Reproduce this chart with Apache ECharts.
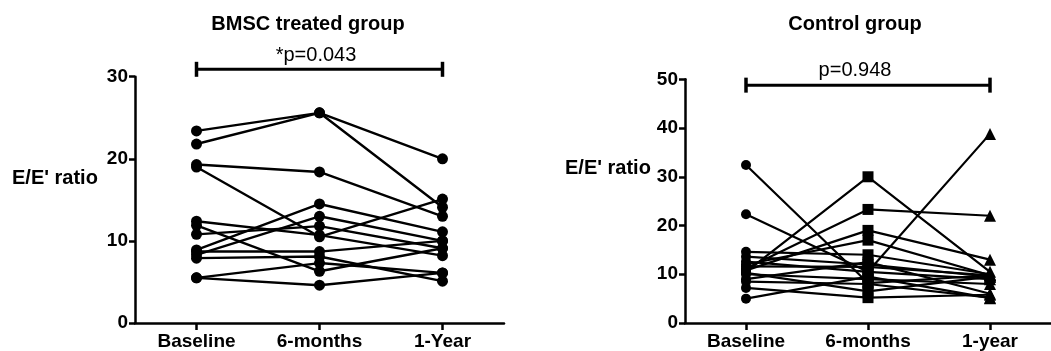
<!DOCTYPE html>
<html><head><meta charset="utf-8">
<script src="https://cdn.jsdelivr.net/npm/echarts@6/dist/echarts.min.js"></script>
<style>html,body{margin:0;padding:0;background:#fff}#c{width:1051px;height:351px}</style>
</head><body><div id="c"></div>
<script>
// ---- data ----
const bmscCategories = ['Baseline', '6-months', '1-Year'];
const controlCategories = ['Baseline', '6-months', '1-year'];

// BMSC treated group, one entry per subject (aligned across arrays)
const bmscBaseline  = [23.4, 21.8, 19.3, 19.0, 12.4, 11.9, 10.8, 8.9, 8.3, 8.7, 7.9, 5.5, 5.5];
const bmscSixMonths = [25.6, 25.6, 18.4, 10.5, 10.7, 6.3, 11.8, 14.5, 13.0, 8.7, 8.1, 7.3, 4.6];
const bmscOneYear   = [20.0, 14.1, 13.0, 15.1, 8.2, 9.1, 9.1, 11.1, 10.0, 10.0, 5.1, 6.1, 6.1];

// Control group
const ctrlBaseline  = [32.4, 22.3, 10.5, 11.2, 10.8, 12.0, 14.6, 13.6, 12.6, 11.6, 10.0, 9.0, 8.5, 7.2, 5.0, 10.3];
const ctrlSixMonths = [8.2, 10.5, 30.0, 23.3, 19.0, 17.0, 14.0, 12.0, 10.5, 11.5, 9.0, 12.5, 8.0, 5.2, 9.5, 6.5];
const ctrlOneYear   = [9.8, 9.0, 10.5, 22.0, 13.0, 9.8, 10.0, 9.5, 38.8, 9.8, 8.0, 6.0, 5.2, 5.8, 5.1, 9.5];

const bmscYAxis = {min: 0, max: 30, interval: 10};
const ctrlYAxis = {min: 0, max: 50, interval: 10};

const bmscTitle = 'BMSC treated group';
const ctrlTitle = 'Control group';
const bmscPText = '*p=0.043';
const ctrlPText = 'p=0.948';
const yName = "E/E' ratio";
const bmscBracketLevel = 30.9;
const ctrlBracketLevel = 48.8;
const ctrlSymbols = ['circle', 'rect', 'triangle'];

// ---- chart ----
const FONT = "'Liberation Sans', Arial, Helvetica, sans-serif";
const chart = echarts.init(document.getElementById('c'), null, {renderer: 'canvas'});

function xAxisDef(gi, cats) {
  return {
    type: 'category', gridIndex: gi, data: cats, boundaryGap: true,
    axisLine: {show: true, lineStyle: {color: '#000', width: 2.5}},
    axisTick: {show: true, alignWithLabel: true, length: 7, lineStyle: {color: '#000', width: 2.5}},
    axisLabel: {color: '#000', fontFamily: FONT, fontWeight: 'bold', fontSize: 19, margin: 9},
    splitLine: {show: false}
  };
}
function yAxisDef(gi, cfg) {
  return {
    type: 'value', gridIndex: gi, min: cfg.min, max: cfg.max, interval: cfg.interval,
    axisLine: {show: true, lineStyle: {color: '#000', width: 2.5}},
    axisTick: {show: true, length: 6, lineStyle: {color: '#000', width: 2.5}},
    axisLabel: {color: '#000', fontFamily: FONT, fontWeight: 'bold', fontSize: 19, margin: 7},
    splitLine: {show: false}
  };
}

const series = [];
for (let i = 0; i < bmscBaseline.length; i++) {
  series.push({
    type: 'line', xAxisIndex: 0, yAxisIndex: 0,
    data: [bmscBaseline[i], bmscSixMonths[i], bmscOneYear[i]],
    symbol: 'circle', symbolSize: 11, showSymbol: true,
    itemStyle: {color: '#000'}, lineStyle: {color: '#000', width: 2.4},
    emphasis: {disabled: true}, silent: true
  });
}
const ctrlSizes = {circle: 10, rect: 11, triangle: 12};
for (let i = 0; i < ctrlBaseline.length; i++) {
  const vals = [ctrlBaseline[i], ctrlSixMonths[i], ctrlOneYear[i]];
  series.push({
    type: 'line', xAxisIndex: 1, yAxisIndex: 1,
    data: vals.map((v, k) => ({value: v, symbol: ctrlSymbols[k], symbolSize: ctrlSizes[ctrlSymbols[k]]})),
    showSymbol: true,
    itemStyle: {color: '#000'}, lineStyle: {color: '#000', width: 2.2},
    emphasis: {disabled: true}, silent: true
  });
}
// significance brackets
series.push({
  type: 'line', xAxisIndex: 0, yAxisIndex: 0, clip: false,
  data: [[bmscCategories[0], bmscBracketLevel], [bmscCategories[2], bmscBracketLevel]],
  symbol: 'rect', symbolSize: [3.5, 15],
  itemStyle: {color: '#000'}, lineStyle: {color: '#000', width: 3}, silent: true
});
series.push({
  type: 'line', xAxisIndex: 1, yAxisIndex: 1, clip: false,
  data: [[controlCategories[0], ctrlBracketLevel], [controlCategories[2], ctrlBracketLevel]],
  symbol: 'rect', symbolSize: [3.5, 15],
  itemStyle: {color: '#000'}, lineStyle: {color: '#000', width: 3}, silent: true
});

function txt(x, y, text, size, weight, align) {
  return {type: 'text', x: x, y: y, silent: true,
    style: {text: text, fill: '#000', font: weight + ' ' + size + 'px ' + FONT,
      textAlign: align, textVerticalAlign: 'middle'}};
}

chart.setOption({
  animation: false,
  backgroundColor: '#fff',
  grid: [
    {left: 135, right: 547, top: 76.7, bottom: 27.7, containLabel: false},
    {left: 685, right: -5, top: 79.3, bottom: 25.7, containLabel: false}
  ],
  xAxis: [xAxisDef(0, bmscCategories), xAxisDef(1, controlCategories)],
  yAxis: [yAxisDef(0, bmscYAxis), yAxisDef(1, ctrlYAxis)],
  series: series,
  graphic: [
    txt(308, 24, bmscTitle, 20, 'bold', 'center'),
    txt(855, 24, ctrlTitle, 20, 'bold', 'center'),
    txt(316, 55, bmscPText, 20, 'normal', 'center'),
    txt(855, 70.5, ctrlPText, 20, 'normal', 'center'),
    txt(12, 178, yName, 20, 'bold', 'left'),
    txt(565, 168, yName, 20, 'bold', 'left')
  ]
});
</script>
</body></html>
